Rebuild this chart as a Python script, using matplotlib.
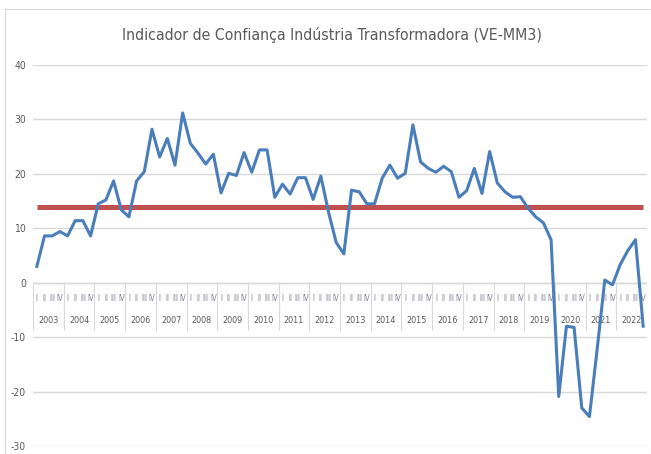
import numpy as np
import matplotlib
matplotlib.use("Agg")
import matplotlib.pyplot as plt
from matplotlib.patches import Rectangle

plt.rcParams['font.family'] = ['DejaVu Sans']
plt.rcParams['font.stretch'] = 'condensed'
plt.rcParams['axes.unicode_minus'] = False

# ----------------------------
# data (quarterly, 2003 I .. 2022 IV)
# ----------------------------
years = [str(y) for y in range(2003, 2023)]
quarters = ["I", "II", "III", "IV"]
indicador = [
    3.0, 8.6, 8.6, 9.4,        # 2003
    8.6, 11.4, 11.4, 8.6,      # 2004
    14.5, 15.2, 18.7, 13.4,    # 2005
    12.1, 18.7, 20.4, 28.2,    # 2006
    23.1, 26.5, 21.6, 31.2,    # 2007
    25.6, 23.8, 21.8, 23.6,    # 2008
    16.5, 20.1, 19.7, 23.9,    # 2009
    20.3, 24.4, 24.4, 15.7,    # 2010
    18.1, 16.3, 19.3, 19.3,    # 2011
    15.3, 19.6, 13.0, 7.4,     # 2012
    5.3, 17.0, 16.7, 14.5,     # 2013
    14.5, 19.2, 21.6, 19.2,    # 2014
    20.1, 29.0, 22.2, 21.0,    # 2015
    20.3, 21.4, 20.4, 15.7,    # 2016
    16.9, 21.0, 16.4, 24.1,    # 2017
    18.3, 16.7, 15.7, 15.8,    # 2018
    13.7, 12.1, 11.0, 7.9,     # 2019
    -20.9, -8.0, -8.2, -23.0,  # 2020
    -24.6, -12.3, 0.5, -0.4,   # 2021
    3.3, 5.9, 7.9, -8.0,       # 2022
]
media = 14.0

# ----------------------------
# figure
# ----------------------------
W, H = 651, 454
fig = plt.figure(figsize=(W / 100, H / 100), dpi=100)
fig.patches.append(Rectangle((5 / W, 0), 1 - 5 / W, 1 - 9 / H, transform=fig.transFigure,
                             fill=False, edgecolor="#D9D9D9", lw=0.8))

ax = fig.add_axes([33 / W, 1 - 446 / H, (647 - 33) / W, (446 - 65) / H])
x = np.arange(len(indicador))

ax.plot(x, [media] * len(x), color="#C0504D", lw=3.6, solid_capstyle="butt", zorder=3)
ax.plot(x, indicador, color="#4A7EBB", lw=2.2, zorder=4)

ax.set_xlim(-0.5, len(x) - 0.5)
ax.set_ylim(-30, 40)
ax.set_yticks(range(-30, 41, 10))
ax.tick_params(axis="y", length=0, pad=5, labelsize=7.5, labelcolor="#595959")
ax.set_xticks([])
ax.grid(axis="y", color="#D9D9D9", lw=1)
for s in ax.spines.values():
    s.set_visible(False)
ax.set_axisbelow(True)

# eixo de categorias no zero: linha dos trimestres + linha dos anos
ax.axhline(0, color="#D9D9D9", lw=1, zorder=1)
for k in range(len(years) + 1):
    ax.plot([-0.5 + 4 * k] * 2, [0, -8.7], color="#D9D9D9", lw=0.8, zorder=1)
for i in x:
    ax.text(i, -2.9, quarters[i % 4], ha="center", va="center",
            fontsize=5.5, color="#857A99", zorder=2)
for k, y in enumerate(years):
    ax.text(4 * k + 1.5, -7.0, y, ha="center", va="center",
            fontsize=6.5, color="#595959", zorder=2)

fig.text(332 / W, 1 - 35 / H, "Indicador de Confiança Indústria Transformadora (VE-MM3)",
         ha="center", va="center", fontsize=11.3, color="#595959")

fig.savefig("out.png", dpi=100)
